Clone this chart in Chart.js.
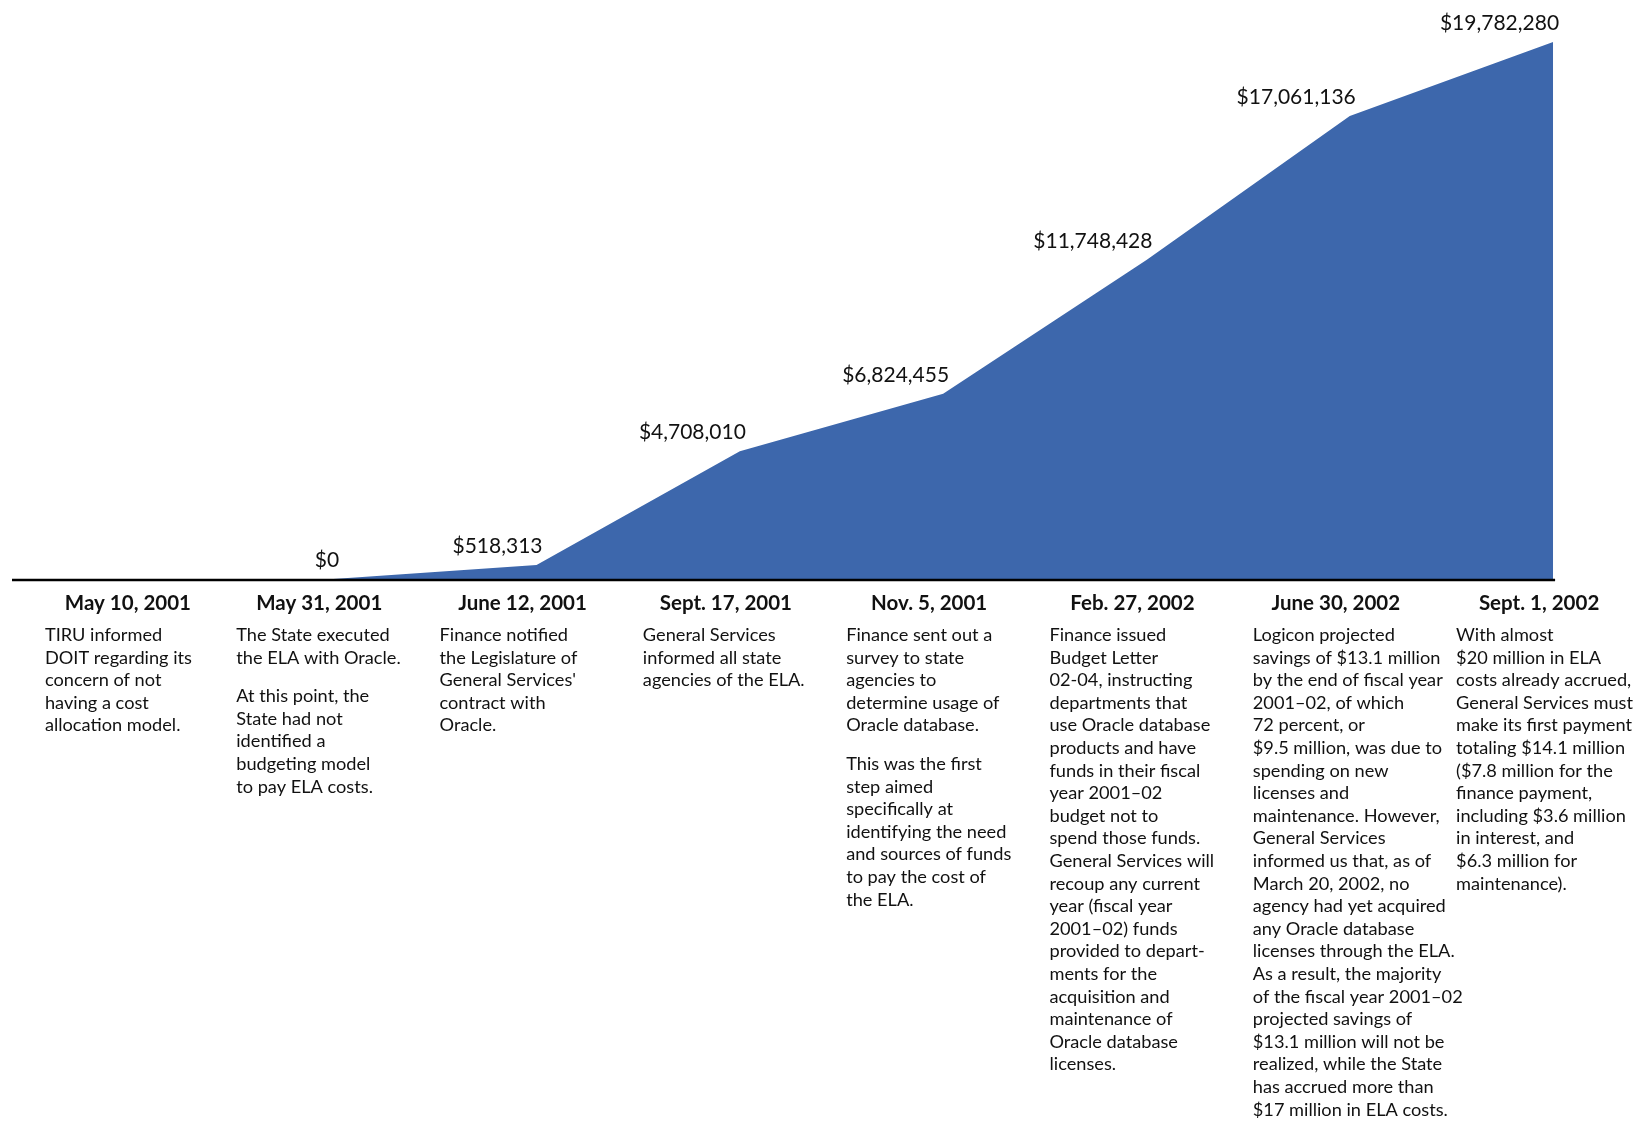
<!DOCTYPE html>
<html>
<head>
<meta charset="utf-8">
<title>ELA costs timeline</title>
<script src="https://cdn.jsdelivr.net/npm/chart.js@4/dist/chart.umd.min.js"></script>
<style>
  html, body { margin: 0; padding: 0; background: #fff; }
  #wrap { width: 1642px; height: 1121px; position: relative; }
</style>
</head>
<body>
<div id="wrap"><canvas id="elaChart" width="1642" height="1121"></canvas></div>
<script>
// ---- Data ----
const DATES = [
  "May 10, 2001", "May 31, 2001", "June 12, 2001", "Sept. 17, 2001",
  "Nov. 5, 2001", "Feb. 27, 2002", "June 30, 2002", "Sept. 1, 2002"
];

// cumulative ELA costs (null = no point on that date)
const COSTS = [null, 0, 518313, 4708010, 6824455, 11748428, 17061136, 19782280];

const COST_LABELS = [
  "", "$0", "$518,313", "$4,708,010", "$6,824,455",
  "$11,748,428", "$17,061,136", "$19,782,280"
];

// "" marks a paragraph break
const NOTES = [
  ["TIRU informed", "DOIT regarding its", "concern of not", "having a cost", "allocation model."],
  ["The State executed", "the ELA with Oracle.", "", "At this point, the", "State had not",
   "identified a", "budgeting model", "to pay ELA costs."],
  ["Finance notified", "the Legislature of", "General Services'", "contract with", "Oracle."],
  ["General Services", "informed all state", "agencies of the ELA."],
  ["Finance sent out a", "survey to state", "agencies to", "determine usage of",
   "Oracle database.", "", "This was the first", "step aimed", "specifically at",
   "identifying the need", "and sources of funds", "to pay the cost of", "the ELA."],
  ["Finance issued", "Budget Letter", "02-04, instructing", "departments that",
   "use Oracle database", "products and have", "funds in their fiscal", "year 2001\u201302",
   "budget not to", "spend those funds.", "General Services will", "recoup any current",
   "year (fiscal year", "2001\u201302) funds", "provided to depart-", "ments for the",
   "acquisition and", "maintenance of", "Oracle database", "licenses."],
  ["Logicon projected", "savings of $13.1 million", "by the end of fiscal year",
   "2001\u201302, of which", "72 percent, or", "$9.5 million, was due to", "spending on new",
   "licenses and", "maintenance. However,", "General Services", "informed us that, as of",
   "March 20, 2002, no", "agency had yet acquired", "any Oracle database",
   "licenses through the ELA.", "As a result, the majority", "of the fiscal year 2001\u201302",
   "projected savings of", "$13.1 million will not be", "realized, while the State",
   "has accrued more than", "$17 million in ELA costs."],
  ["With almost", "$20 million in ELA", "costs already accrued,", "General Services must",
   "make its first payment", "totaling $14.1 million", "($7.8 million for the",
   "finance payment,", "including $3.6 million", "in interest, and",
   "$6.3 million for", "maintenance)."]
];

// ---- Style ----
const BLUE = "#3d67ac";
const INK = "#111111";
const BODY_FONT = "'Lato', 'Noto Sans', sans-serif";
const VALUE_FONT = "'Liberation Sans Narrow', 'Lato', sans-serif";

// ---- Plugins ----
const timelineText = {
  id: "timelineText",
  afterDatasetsDraw(chart) {
    const { ctx, scales: { x, y }, chartArea } = chart;
    const zeroY = y.getPixelForValue(0);

    // baseline rule
    ctx.save();
    ctx.strokeStyle = "#000";
    ctx.lineWidth = 2.5;
    ctx.beginPath();
    ctx.moveTo(chartArea.left, zeroY + 1);
    ctx.lineTo(x.getPixelForValue(COSTS.length - 1) + 2, zeroY + 1);
    ctx.stroke();

    // value labels
    ctx.fillStyle = INK;
    ctx.font = "21px " + VALUE_FONT;
    ctx.textAlign = "right";
    ctx.textBaseline = "alphabetic";
    COSTS.forEach((v, i) => {
      if (v === null) return;
      ctx.fillText(COST_LABELS[i], x.getPixelForValue(i) + 6, y.getPixelForValue(v) - 12);
    });

    // dates + notes (first column sits a little closer to the second)
    DATES.forEach((d, i) => {
      const cx = x.getPixelForValue(i) + (i === 0 ? 12 : 0);
      ctx.font = "bold 20.5px " + BODY_FONT;
      ctx.textAlign = "center";
      ctx.fillText(d, cx - 14, zeroY + 31);

      ctx.font = "18.2px " + BODY_FONT;
      ctx.textAlign = "left";
      let ty = zeroY + 62;
      NOTES[i].forEach(line => {
        if (line === "") { ty += 16; return; }
        ctx.fillText(line, cx - 97, ty);
        ty += 22.6;
      });
    });
    ctx.restore();
  }
};

// ---- Chart ----
const ctx = document.getElementById("elaChart").getContext("2d");

new Chart(ctx, {
  type: "line",
  data: {
    datasets: [{
      data: COSTS.map((v, i) => ({ x: i, y: v })).filter(p => p.y !== null),
      fill: "origin",
      backgroundColor: BLUE,
      borderWidth: 0,
      pointRadius: 0,
      tension: 0
    }]
  },
  options: {
    responsive: false,
    animation: false,
    devicePixelRatio: 1,
    layout: { padding: { top: 9, bottom: 542, left: 12, right: 82 } },
    plugins: { legend: { display: false }, tooltip: { enabled: false } },
    scales: {
      x: { type: "linear", min: -0.58, max: 7.034, display: false },
      y: { min: 0, max: 21000000, display: false }
    }
  },
  plugins: [timelineText]
});
</script>
</body>
</html>
